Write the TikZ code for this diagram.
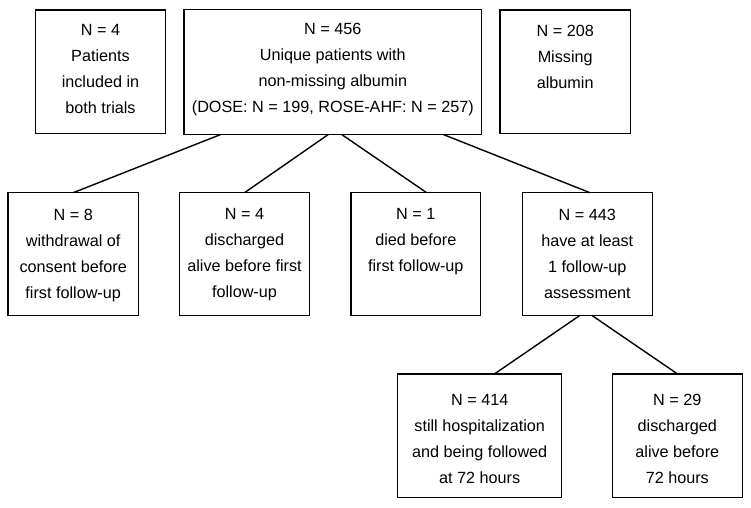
\documentclass[tikz,border=0pt]{standalone}
\usepackage{fontspec}
\setmainfont{Liberation Sans}
\begin{document}
\begin{tikzpicture}[x=1pt,y=-1pt,
  box/.style={draw=black,line width=1.4pt,inner sep=0pt,outer sep=0pt,rectangle},
  txt/.style={anchor=north,inner sep=0pt,align=center,font=\fontsize{16.2}{26}\selectfont,text=black},
  conn/.style={draw=black,line width=1.4pt}]
\useasboundingbox (0,0) rectangle (751,507);
% top row
\node[box,minimum width=129.6pt,minimum height=123.3pt] (tl) at (100.5,71.7) {};
\node[box,minimum width=297.7pt,minimum height=125pt] (tc) at (332.8,72) {};
\node[box,minimum width=130.3pt,minimum height=123.3pt] (tr) at (565.2,71.7) {};
% second row
\node[box,minimum width=130.3pt,minimum height=122.6pt] (b1) at (73.2,254) {};
\node[box,minimum width=130.3pt,minimum height=122.6pt] (b2) at (244.5,254) {};
\node[box,minimum width=129.7pt,minimum height=122.6pt] (b3) at (415.8,254) {};
\node[box,minimum width=130pt,minimum height=122.6pt] (b4) at (587.3,254) {};
% third row
\node[box,minimum width=164pt,minimum height=123.3pt] (b5) at (479.7,435.7) {};
\node[box,minimum width=130pt,minimum height=123.3pt] (b6) at (677.3,435.7) {};
% texts
\node[txt] (ttl) at (100.5,24.5) {N = 4\\Patients\\included in\\both trials};
\node[txt] (ttc) at (332.8,22.8) {N = 456\\Unique patients with\\non-missing albumin\\(DOSE: N = 199, ROSE-AHF: N = 257)};
\node[txt] (ttr) at (565.2,24.5) {N = 208\\Missing\\albumin};
\node[txt] (tb1) at (73.2,208.5) {N = 8\\withdrawal of\\consent before\\first follow-up};
\node[txt] (tb2) at (244.5,208.5) {N = 4\\discharged\\alive before first\\follow-up};
\node[txt] (tb3) at (415.8,208.5) {N = 1\\died before\\first follow-up};
\node[txt] (tb4) at (587.3,208.5) {N = 443\\have at least\\1 follow-up\\assessment};
\node[txt] (tb5) at (479.7,394) {N = 414\\still hospitalization\\and being followed\\at 72 hours};
\node[txt] (tb6) at (677.3,394) {N = 29\\discharged\\alive before\\72 hours};
% connectors
\draw[conn] ([xshift=-112.1pt]tc.south) -- (b1.north);
\draw[conn] ([xshift=-4.5pt]tc.south) -- (b2.north);
\draw[conn] ([xshift=8.9pt]tc.south) -- ([xshift=10.9pt]b3.north);
\draw[conn] ([xshift=110.5pt]tc.south) -- ([xshift=2.7pt]b4.north);
\draw[conn] ([xshift=-7.3pt]b4.south) -- ([xshift=14.6pt]b5.north);
\draw[conn] ([xshift=4.4pt]b4.south) -- ([xshift=0.4pt]b6.north);
\end{tikzpicture}
\end{document}
